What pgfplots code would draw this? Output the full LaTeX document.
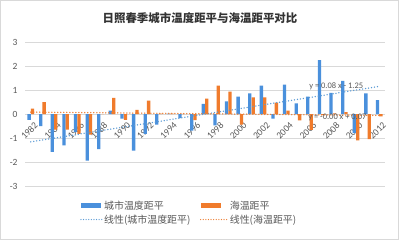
\documentclass[border=0pt]{standalone}
\usepackage{pgfplots}
\usepackage{pgfplotstable}
\pgfplotsset{compat=1.18}
\usepackage{fontspec}
\setmainfont{Carlito}
\newfontfamily\cjk{Noto Sans CJK SC}
\definecolor{cblue}{HTML}{4A90DC}
\definecolor{corange}{HTML}{F07B2C}
\definecolor{tblue}{HTML}{5B9BD5}
\definecolor{torange}{HTML}{ED7D31}
\definecolor{gridc}{HTML}{D9D9D9}
\definecolor{txt}{HTML}{595959}
\definecolor{ttl}{HTML}{333333}

\pgfplotstableread{
year city sea
1982 -0.24 0.22
1983 -0.51 0.49
1984 -1.58 -0.65
1985 -1.31 -0.65
1986 -0.75 -0.83
1987 -1.94 -0.86
1988 -1.46 0.00
1989 0.14 0.67
1990 -0.19 -0.24
1991 -1.53 0.17
1992 -0.83 0.56
1993 -0.44 0.02
1994 0.02 0.02
1995 -0.17 0.01
1996 -0.69 -0.26
1997 0.42 0.64
1998 -0.47 1.18
1999 0.53 0.93
2000 0.72 -0.44
2001 0.86 0.69
2002 1.18 0.69
2003 -0.19 0.47
2004 1.22 0.14
2005 0.44 -0.27
2006 0.72 -0.66
2007 2.25 -0.05
2008 0.88 0.03
2009 1.38 0.08
2010 -0.80 -1.10
2011 0.86 -1.05
2012 0.58 -0.10
}\datatable

\begin{document}
\begin{tikzpicture}
\useasboundingbox (0,0) rectangle (399bp,240bp);
\fill[white] (0,0) rectangle (399bp,240bp);
\draw[gridc, line width=0.75bp] (0.4bp,0.4bp) rectangle (398.6bp,239.6bp);
\node[font=\cjk\bfseries\fontsize{11.5}{13}\selectfont, text=ttl] at (200bp,222bp) {日照春季城市温度距平与海温距平对比};
\begin{axis}[
  at={(25bp,54bp)}, anchor=south west,
  scale only axis, width=360bp, height=144bp,
  xmin=1981.5, xmax=2012.5, ymin=-3, ymax=3,
  ytick={-3,-2,-1,0,1,2,3},
  xtick={1982,1984,...,2012},
  /pgf/number format/1000 sep={},
  /pgf/number format/assume math mode=true,
  axis line style={draw=none},
  major tick length=0pt,
  ymajorgrids, grid style={gridc, line width=0.75bp},
  clip=false,
  yticklabel style={font=\fontsize{9.5}{10}\selectfont, text=txt, xshift=-4bp},
  xticklabel style={font=\fontsize{9.5}{10}\selectfont, text=txt, yshift=66bp, xshift=3bp, rotate=45, anchor=north east, inner sep=1bp},
  legend columns=2,
  legend cell align=left,
  legend style={at={(0.153,-0.09)}, anchor=north west, draw=none, fill=none,
    font=\cjk\fontsize{10}{11}\selectfont, text=txt, inner sep=0pt,
    nodes={inner sep=1.5bp},
    row sep=1bp,
    /tikz/every even column/.append style={column sep=8bp}},
]
\addplot[ybar, bar width=3.3bp, bar shift=-1.7bp, fill=cblue, draw=none,
  legend image code/.code={\fill[cblue] (0bp,-2.5bp) rectangle (20bp,2.5bp);}]
  table[x=year, y=city] {\datatable};
\addplot[ybar, bar width=3.3bp, bar shift=1.7bp, fill=corange, draw=none,
  legend image code/.code={\fill[corange] (0bp,-2.5bp) rectangle (20bp,2.5bp);}]
  table[x=year, y=sea] {\datatable};
\addplot[tblue, line width=1.5bp, line cap=round, dash pattern=on 0bp off 3bp,
  legend image code/.code={\draw[tblue, line width=1.3bp, line cap=round, dash pattern=on 0bp off 2.6bp] (0bp,0bp) -- (21bp,0bp);}]
  coordinates {(1982,-1.16) (2012,1.15)};
\addplot[torange, line width=1.5bp, line cap=round, dash pattern=on 0bp off 3bp,
  legend image code/.code={\draw[torange, line width=1.3bp, line cap=round, dash pattern=on 0bp off 2.6bp] (0bp,0bp) -- (27bp,0bp);}]
  coordinates {(1982,0.08) (2012,-0.06)};
\legend{城市温度距平, 海温距平, 线性(城市温度距平), 线性(海温距平)}
\node[font=\fontsize{8.5}{9}\selectfont, text=txt] at (axis cs:2008.3,1.14) {y = 0.08 x - 1.25};
\node[font=\fontsize{8.5}{9}\selectfont, text=txt] at (axis cs:2008.4,-0.14) {y = -0.00 x + 0.07};
\end{axis}
\end{tikzpicture}
\end{document}
